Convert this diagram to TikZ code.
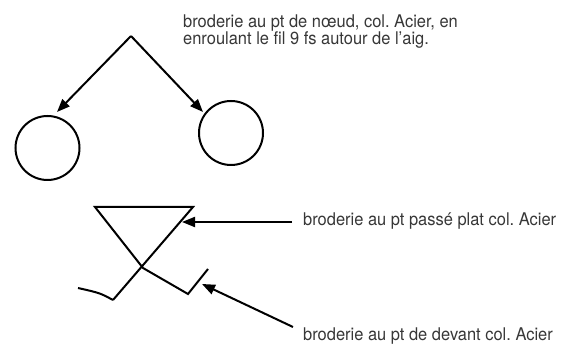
\documentclass[tikz,border=0pt]{standalone}
\usepackage{fontspec}
\setmainfont{TeX Gyre Heros}[FakeStretch=0.94]
\usetikzlibrary{arrows.meta}
\definecolor{txtgray}{RGB}{55,55,55}
\begin{document}
\frenchspacing
\begin{tikzpicture}[x=1pt,y=-1pt,
  ln/.style={line width=2pt,draw=black},
  arr/.style={ln,-{Triangle[length=13pt,width=10pt]}},
  lbl/.style={text=txtgray,font=\fontsize{17.5}{17}\selectfont,inner sep=0pt,anchor=base west,align=left}]
\useasboundingbox (0,0) rectangle (562,352);
\coordinate (apex) at (131,36);
\node[ln,circle,minimum size=64pt,inner sep=0pt] (c1) at (47.5,148) {};
\node[ln,circle,minimum size=64pt,inner sep=0pt] (c2) at (231,133) {};
\coordinate (t1) at (57,112);
\coordinate (t2) at (203,112);
\draw[arr] (apex) -- (t1);
\draw[arr] (apex) -- (t2);
\node[lbl] (l1) at (183,45) {broderie au pt de nœud, col. Acier, en\\enroulant le fil 9 fs autour de l’aig.};
% stitch figure
\coordinate (tl) at (95,207);
\coordinate (tr) at (193,207);
\coordinate (x) at (143,268);
\coordinate (bl) at (113,300);
\coordinate (cl) at (78,288);
\coordinate (br) at (188,294);
\coordinate (ur) at (208,269);
\draw[ln,line join=miter] (bl) -- (tr) -- (tl) -- (x) -- (br) -- (ur);
\draw[ln] (bl) .. controls (100,293) .. (cl);
\node[lbl] (l2) at (303,226) {broderie au pt passé plat col. Acier};
\node[lbl] (l3) at (303,341) {broderie au pt de devant col. Acier};
\coordinate (a2s) at (292,222);
\coordinate (a2e) at (182,222);
\draw[arr] (a2s) -- (a2e);
\coordinate (a3s) at (293,327);
\coordinate (a3e) at (202,284);
\draw[arr] (a3s) -- (a3e);
\end{tikzpicture}
\end{document}
